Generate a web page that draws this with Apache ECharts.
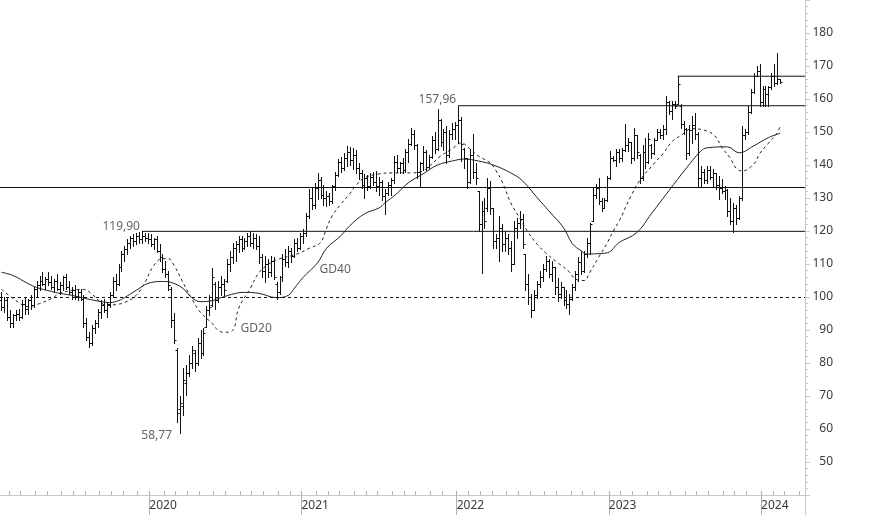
<!DOCTYPE html>
<html><head><meta charset="utf-8">
<script src="https://cdn.jsdelivr.net/npm/echarts@6/dist/echarts.min.js"></script>
<style>html,body{margin:0;padding:0;background:#fff}#chart{width:874px;height:515px}</style>
</head><body><div id="chart"></div>
<script>
// ---- time axis: weekly bars ----
var firstWeek = '2019-01-11';
var weekCount = 275;

// ---- weekly OHLC values ----
var open = [
99,97,99,94,92,94.5,95,94,98,96.5,
99,97.5,102.5,103.5,105,104,105.5,104.5,103,105,
102.5,103.5,106,103,101.5,102,100,101.5,99.5,92,
88,86,90.5,92,95.5,97.5,96,98,100.5,105,
104,109,113,114.5,116.5,118,117,118.5,117.5,118.5,
118,117.5,116,117.5,114,112,108.5,107,102.5,93,
84,66,67,74,77,80,83,80,86,83,
91,96,97.5,104,99,103,104,105,110,112,
115,116,117.5,115,117,118.5,116.5,118,115.5,112,
108,110,107.5,111,104,101.5,106,111.5,110.5,114,
112.5,116.5,115,118.5,119.5,124.5,130,128,133,135.5,
131,130,130.5,129,133.5,137,141,139,142,144,
141.5,143,139,137.5,134,136,133.5,136.5,135,133.5,
135,130.5,131.5,134,135.5,141,139,140.5,138.5,144,
146.5,149.5,146,138,140.5,144,139.5,142.5,147.5,145,
153.5,147,150,143,149.5,151,152,153.5,145,142,
135,143,138,132,122,126,127,133,127,117,
118,121,116,118,115,110,121,122.5,123.5,113,
104,100,96,100.5,104,106,108.5,111,107,109,
103,101,103,99,98,99.5,103,107,110.5,108,
113,116.5,123,131,133,129,127,129.5,136,142,
141.5,144,142,144.5,146,147,142,149,143,136,
144,141,146,143.5,147.5,150,149,151,159,156.5,
158.5,158.4,158,152.5,151,143.5,150.5,152,149.5,136,
138,135.5,138.5,136.5,137.5,134,133,132,132.5,126,
123,127,124,130,149,150,156,162,167,168.5,
159,163,161.5,163.5,167,165,166
];
var high = [
101.5,100,100,96,95,96,96.5,99,100,99.5,
100.5,103,105,106.5,107.5,106,107.5,106.5,105.5,107,
104.5,106.5,107,105,103,103.5,102.5,102.5,100.5,93.5,
89.5,91.5,93,96.5,99,99.5,98.5,101.5,106,107,
110,114,115.5,117.5,118.5,119,119.5,119.7,119.9,119.5,
119.5,119,118,118.5,116,113,111,108,103,95.3,
84.4,70,78.4,79.3,82.3,85.3,84,87.5,89.9,90.5,
97.4,100.5,108.9,104.4,105,106.5,105.5,111.6,114,116.5,
117,118.6,118.5,118,119.5,120,119.5,119,118.6,113,
112.5,111.5,112.5,112,104.5,106.5,113,114.5,115.5,115,
117.5,118,119.5,120.5,125.5,132.8,133,134.5,137.6,136.5,
134,132,131.5,134,138,141.9,142.5,143.5,145.7,145.5,
145.2,144.5,140.6,138.5,137.3,137,137.5,138,138.2,136.5,
135.5,132.8,135,136,142.7,143,141,142,145,147.8,
151.2,150.5,146.5,141,145.8,144.5,143,148.8,150,156.9,
154,151,151.8,150.5,152.7,153,157.96,154.5,145.2,142,
145,149.4,140.6,132.2,129.2,130,136.1,135.2,127,119.2,
124.6,122,120.1,119.2,117.1,123.1,124,126.1,125.2,113.1,
107.1,101,102,105,108,110.1,112.5,111.5,111,109,
105.9,104.4,103,102,101,104,108,112,114,114,
118,122.5,133,134.3,136.1,130,130,136.7,144.3,142.7,
144.9,145,145.2,152.4,148.2,147,151.2,149,143.4,146,
148.2,149.7,146.4,148.2,150.9,150.9,152,160.9,159.4,159.4,
159.4,166.9,158.4,153.3,151.2,152,154.8,155.7,150,139.7,
138.8,139.7,139.7,138.8,137.6,136.7,135.8,133.7,132.8,130,
128.5,128,130.7,151.8,150.9,157.9,163,167.8,170,170.5,
163.9,164,163.9,167.8,170.5,173.9,166
];
var low = [
96,95.5,93,91,90.8,93,93,93.5,95,95,
96.5,97,100,102,103.5,102.5,103.5,102.5,101.5,102,
101,102,102.5,101,99.5,99.5,99,99,91,87,
84.7,85.5,89,91,93.5,95.5,94,97,100,102,
103.5,108,111,113,115,115.5,116,116.5,116.5,117,
116.5,115.5,114.5,113.5,111,107.5,106,102,90.8,86,
62,58.77,64.2,70.2,76,78.4,77.5,79.3,81.5,82.3,
91,94.4,97.4,96.5,98.5,100.5,100.5,104.4,108,110.4,
111,113.5,114,114.5,115.5,115.6,115,114.6,110.4,106,
104.4,106,106.5,105.5,99.5,101,105,109.5,109,110.5,
112,114,114.5,116.5,118.6,124,126.7,127,129.8,130,
128,127.5,128,128.5,132.5,136.7,138,138.5,139.8,140,
138.8,137.6,135.8,133,130,132.5,133,134,132,131,
129.5,125.2,131,131,134.6,138,137.6,137.6,138,141,
146,145,136,133.5,138.5,138.5,139,142,143.7,144.5,
145.7,144.5,140.6,142.5,147.9,148,146.7,141.3,139.2,133,
134.5,136.1,134.3,120.1,107.4,121,126.1,125.2,115,115,
111,114,114,113.1,108,110,118,121,115,102,
98,93.8,96,99.8,102.9,105,108,106,105,101,
98.9,99.8,97.5,96.8,95,99,102,105,107,107.5,
112,113,123,130,128.2,126.1,127,129.2,135.8,141.2,
139.7,141,141.2,144.3,144.3,140.6,141.5,142.1,134.6,135.5,
139.2,140.5,142.1,143.4,147.5,148.2,148,149.4,155.4,153.9,
157.3,158.4,151.2,149.4,141.9,143,146.7,148,133.7,133.7,
134.6,134.6,135.8,133.7,132.8,129.8,131.6,129.8,124.6,122,
119.8,122,123.7,129.5,147.9,149.5,155.7,161.8,167,157.9,
157.9,158,157.9,163,163.9,164.5,164.8
];
var close = [
97,99,94,92,94.5,95,94,98,96.5,99,
97.5,102.5,103.5,105,104,105.5,104.5,103,105,102.5,
103.5,106,103,101.5,102,100,101.5,99.5,92,88,
86,90.5,92,95.5,97.5,96,98,100.5,105,104,
109,113,114.5,116.5,118,117,118.5,117.5,118.5,118,
117.5,116,117.5,114,112,108.5,107,103.5,93,87,
65,68,75,77,80,84,80,86,83,89,
96,97,106,99,103,104,102,110,112,115,
116,117.5,115,117,118.5,116.5,118,115.5,112,108,
110,107.5,111,106,101.5,106,111.5,110.5,114,112.5,
116.5,115,118.5,119.5,124.5,130,128,133,135.5,131,
130,130.5,129,133.5,137,141,139,142,144,141.5,
143,139,137.5,134,136,133.5,136.5,135,133.5,135,
130.5,131.5,134,135.5,141,139,140.5,138.5,144,146.5,
149.5,146,138,140.5,144,139.5,142.5,147.5,145,153.5,
147,150,143,149.5,151,152,153.5,146.5,142,135,
143,138,136,122,126,123,133,127,117,118,
121,116,118,115,110,121,122.5,123.5,116,104,
100,96,100.5,104,106,108.5,111,107,109,103,
101,103,99,98,99.5,103,107,110.5,108,113,
116.5,122,131,133,129,127,129.5,136,142,141.5,
144,142,144.5,146,147,142,149,144,136,144,
141,148,143.5,147.5,150,149,151,159,156.5,158.5,
158,164.5,152.5,151,143.5,150.5,152,149.5,136,138,
135.5,138.5,136.5,137.5,134,133,132,132.5,126,123,
127,124,130,149,150,156,162,167,168.5,159,
163,161.5,163.5,167,165,166,165.2
];

// ---- moving averages (week index, value) ----
var gd20Week = [0,5,9,13,17,20,24,28,31,34,36,39,42,46,49,52,55,57,59,62,65,68,72,74,76,79,81,85,88,92,95,99,102,105,109,111,113,116,119,121,124,129,134,140,144,147,150,154,157,160,163,167,169,171,174,177,180,183,186,190,194,196,199,201,204,207,209,211,215,218,223,226,229,232,236,241,244,246,249,251,253,257,259,262,265,266];
var gd20Val  = [102.3,98.9,97.1,98,99.5,101.1,102,102.3,100.8,98.3,97.4,97.7,98.3,100.5,104.4,109.5,111.6,111.6,109.5,104.4,99.5,95.3,92,89.9,89.3,89.9,96.5,102.6,107.4,110.4,111.6,112.5,113.4,114.7,116.5,120.7,124.6,128.2,131.3,133.7,136.1,137.3,137.6,137.6,138.2,140.3,142.7,144.9,146.7,144.9,142.7,140.6,138.2,135,128.5,124,119.5,116,113.3,110.4,107.6,105.5,105,107.5,112,116.5,120,123,130.5,135.2,140.5,143.4,147,148.9,151,150.3,148.5,145.5,142,139,138.2,140.3,143.4,146.6,149.7,151.8];
var gd40Week = [0,4,9,12,17,20,24,29,34,37,40,42,46,50,55,58,62,65,68,72,75,80,83,88,94,98,100,103,108,111,116,119,124,129,131,135,139,144,149,154,158,163,168,174,178,183,187,192,195,198,200,203,207,211,217,222,228,234,239,241,248,252,257,262,266];
var gd40Val  = [107.5,106.5,104.1,102.9,101.7,101.1,100.5,99.5,98.6,98.3,98.9,99.8,102,104.1,104.7,104.4,102.6,99.8,98.6,98.9,99.8,101.1,101.4,101.1,99.8,100.5,102.6,105.9,110.4,114.7,118.6,121.6,125.2,127,128.5,131.3,134.6,137.3,140,141.2,141.8,141.2,140,137.6,135.2,130.1,126.1,121,116.2,114,113,113.1,113.4,116.5,119.5,125.2,132.2,139.1,144.3,145.2,145.5,143.7,145.8,148.3,149.6];

// ---- horizontal levels ----
var levelValue = [119.90, 157.96, 166.9];
var levelStartWeek = [48, 156, 231];
var fullLineValue = 133.4;
var baseLineValue = 100;

// ---- annotations ----
var noteText = ['119,90', '58,77', '157,96', 'GD40', 'GD20'];
var noteWeek = [48, 61, 156, 114, 87];
var noteValue = [119.9, 58.77, 157.96, 108.3, 90.5];

// ---- y axis ----
var yMin = 40, yMax = 190, yStep = 10;

// week dates
var weeks = [];
var t0 = Date.parse(firstWeek + 'T00:00:00Z');
for (var i = 0; i < weekCount; i++) {
  weeks.push(new Date(t0 + i * 7 * 86400000).toISOString().slice(0, 10));
}
var yearTicks = [], monthTicks = [];
for (var j = 1; j < weekCount; j++) {
  if (weeks[j].slice(0, 4) !== weeks[j - 1].slice(0, 4)) yearTicks.push(j - 0.5);
  else if (weeks[j].slice(5, 7) !== weeks[j - 1].slice(5, 7)) monthTicks.push(j - 0.5);
}
var monthAll = monthTicks.concat(yearTicks).sort(function (a, b) { return a - b; });

var ohlc = open.map(function (o, i) { return [i, o, high[i], low[i], close[i]]; });
var gd20 = gd20Week.map(function (w, k) { return [w, gd20Val[k]]; });
var gd40 = gd40Week.map(function (w, k) { return [w, gd40Val[k]]; });

var ink = '#111';
var labelFont = { color: '#3a3a3a', fontSize: 12, fontFamily: 'Noto Sans' };
var notePlacement = [
  { position: 'left', distance: 2, offset: [0, -5] },
  { position: 'left', distance: 8, offset: [0, 3] },
  { position: 'left', distance: 2, offset: [0, -6] },
  { position: 'inside', distance: 0, offset: [0, 0] },
  { position: 'inside', distance: 0, offset: [0, 0] }
];

var series = [
  {
    type: 'custom', name: 'OHLC', xAxisIndex: 0, yAxisIndex: 0,
    data: ohlc, encode: { x: 0, y: [1, 2, 3, 4] }, z: 5,
    renderItem: function (params, api) {
      var idx = api.value(0);
      var pH = api.coord([idx, api.value(2)]);
      var pL = api.coord([idx, api.value(3)]);
      var pO = api.coord([idx, api.value(1)]);
      var pC = api.coord([idx, api.value(4)]);
      var x = Math.round(pH[0]) + 0.5;
      var yo = Math.round(pO[1]) + 0.5, yc = Math.round(pC[1]) + 0.5;
      var st = { stroke: ink, lineWidth: 1 };
      return { type: 'group', children: [
        { type: 'line', shape: { x1: x, y1: Math.round(pH[1]), x2: x, y2: Math.round(pL[1]) + 1 }, style: st },
        { type: 'line', shape: { x1: x - 2, y1: yo, x2: x, y2: yo }, style: st },
        { type: 'line', shape: { x1: x, y1: yc, x2: x + 2, y2: yc }, style: st }
      ]};
    }
  },
  {
    type: 'line', name: 'GD20', data: gd20, smooth: 0.4, symbol: 'none', z: 4,
    lineStyle: { color: '#222', width: 1, type: [3, 3] }
  },
  {
    type: 'line', name: 'GD40', data: gd40, smooth: 0.4, symbol: 'none', z: 4,
    lineStyle: { color: '#222', width: 1 },
    markLine: {
      silent: true, symbol: 'none', label: { show: false }, animation: false,
      data: [
        { yAxis: fullLineValue, lineStyle: { color: ink, width: 1, type: 'solid' } },
        { yAxis: baseLineValue, lineStyle: { color: ink, width: 1, type: [3, 3] } }
      ]
    }
  }
];
levelValue.forEach(function (v, k) {
  series.push({
    type: 'line', data: [[levelStartWeek[k], v], [weekCount - 0.5, v]], symbol: 'none', z: 3,
    lineStyle: { color: ink, width: 1 }
  });
});
series.push({
  type: 'scatter', symbolSize: 0, z: 6,
  data: noteText.map(function (t, k) {
    return { value: [noteWeek[k], noteValue[k]],
      label: Object.assign({ show: true, formatter: t }, labelFont, notePlacement[k]) };
  })
});

var xRange = { min: -0.5, max: weekCount - 0.5 };
var chart = echarts.init(document.getElementById('chart'), null, { renderer: 'canvas' });
chart.setOption({
  animation: false,
  backgroundColor: '#fff',
  grid: [
    { left: 0, right: 69, top: -1, bottom: 20 },
    { left: 0, right: 69, top: 495, bottom: 0 }
  ],
  xAxis: [
    { type: 'value', gridIndex: 0, min: xRange.min, max: xRange.max, position: 'bottom',
      axisLine: { show: true, onZero: false, lineStyle: { color: '#c8c8c8' } },
      axisTick: { show: true, inside: true, length: 4, customValues: monthAll, lineStyle: { color: '#b0b0b0' } },
      axisLabel: { show: false }, splitLine: { show: false } },
    { type: 'value', gridIndex: 0, min: xRange.min, max: xRange.max, position: 'bottom',
      axisLine: { show: false, onZero: false },
      axisTick: { show: true, length: 20, customValues: yearTicks, lineStyle: { color: '#b0b0b0' } },
      axisLabel: Object.assign({ show: true, customValues: yearTicks,
        formatter: function (v) { return weeks[Math.round(v + 0.5)].slice(0, 4); },
        align: 'left', margin: 5, showMinLabel: true, showMaxLabel: true }, labelFont),
      splitLine: { show: false } },
    { type: 'value', gridIndex: 1, min: 0, max: 1, show: false }
  ],
  yAxis: [
    { type: 'value', gridIndex: 0, position: 'right', min: yMin, max: yMax, interval: yStep,
      axisLine: { show: true, onZero: false, lineStyle: { color: '#c8c8c8' } },
      axisTick: { show: true, length: 5, lineStyle: { color: '#c8c8c8' } },
      minorTick: { show: true, splitNumber: 5, length: 3, lineStyle: { color: '#c8c8c8' } },
      splitLine: { show: false },
      axisLabel: Object.assign({ showMinLabel: false, showMaxLabel: false, align: 'right', margin: 28 }, labelFont) },
    { type: 'value', gridIndex: 1, position: 'right', min: 0, max: 1,
      axisLine: { show: true, onZero: false, lineStyle: { color: '#c8c8c8' } },
      axisTick: { show: false }, axisLabel: { show: false }, splitLine: { show: false } }
  ],
  series: series
});
</script>
</body></html>
